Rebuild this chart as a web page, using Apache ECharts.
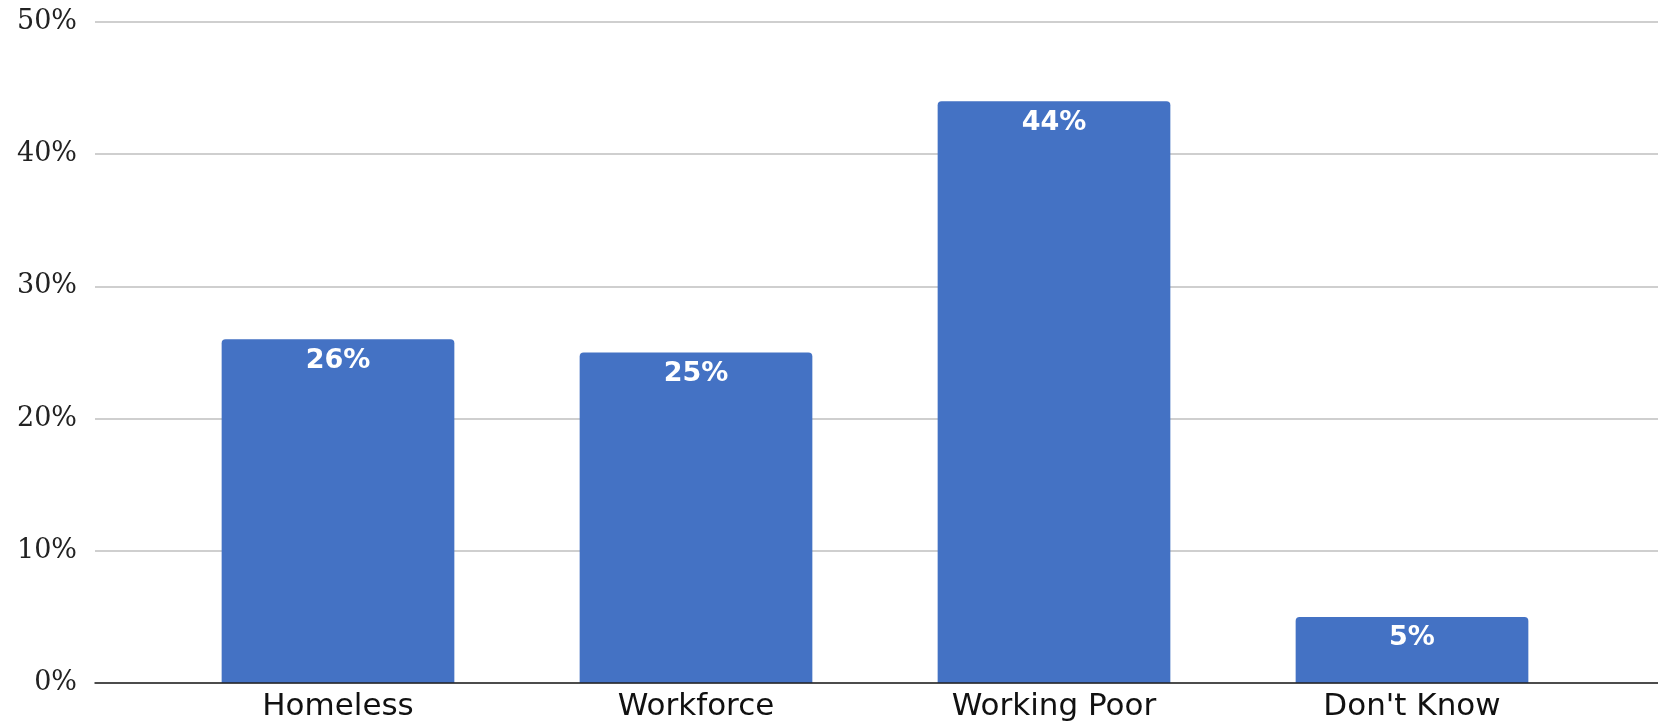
<!DOCTYPE html>
<html><head><meta charset="utf-8">
<script src="https://cdn.jsdelivr.net/npm/echarts@6/dist/echarts.min.js"></script>
<style>html,body{margin:0;padding:0;background:#fff}#c{width:1658px;height:722px}</style>
</head><body><div id="c"></div>
<script>
const categories = ["Homeless", "Workforce", "Working Poor", "Don't Know"];
const values = [26, 25, 44, 5];
const yTicks = [0, 10, 20, 30, 40, 50];

const chart = echarts.init(document.getElementById('c'));
chart.setOption({
  animation: false,
  grid: [
    {left: 95, right: 0, top: 22, bottom: 39},
    {left: 159, right: 67, top: 22, bottom: 39}
  ],
  xAxis: [
    {gridIndex: 0, type: 'category', data: categories, axisLabel: {show: false}, axisTick: {show: false},
     axisLine: {show: true, lineStyle: {color: '#222', width: 1.5}}, z: 10},
    {gridIndex: 1, type: 'category', data: categories, axisTick: {show: false}, axisLine: {show: false},
     axisLabel: {color: '#111', fontFamily: 'DejaVu Sans', fontSize: 31, margin: 8}}
  ],
  yAxis: [
    {gridIndex: 0, type: 'value', min: yTicks[0], max: yTicks[yTicks.length-1], interval: 10,
     axisLine: {show: false}, axisTick: {show: false},
     axisLabel: {formatter: '{value}%', color: '#222', fontFamily: 'DejaVu Serif', fontSize: 27, margin: 18},
     splitLine: {lineStyle: {color: '#cfcfcf', width: 2}}},
    {gridIndex: 1, type: 'value', min: yTicks[0], max: yTicks[yTicks.length-1], interval: 10, show: false}
  ],
  series: [{
    type: 'bar', xAxisIndex: 1, yAxisIndex: 1, data: values, barWidth: '65%',
    itemStyle: {color: '#4472C4', borderRadius: [4, 4, 0, 0]},
    label: {show: true, position: 'insideTop', distance: 8, formatter: '{c}%', color: '#fff',
            fontFamily: 'DejaVu Sans', fontSize: 27, fontWeight: 'bold'}
  }]
});
</script></body></html>
